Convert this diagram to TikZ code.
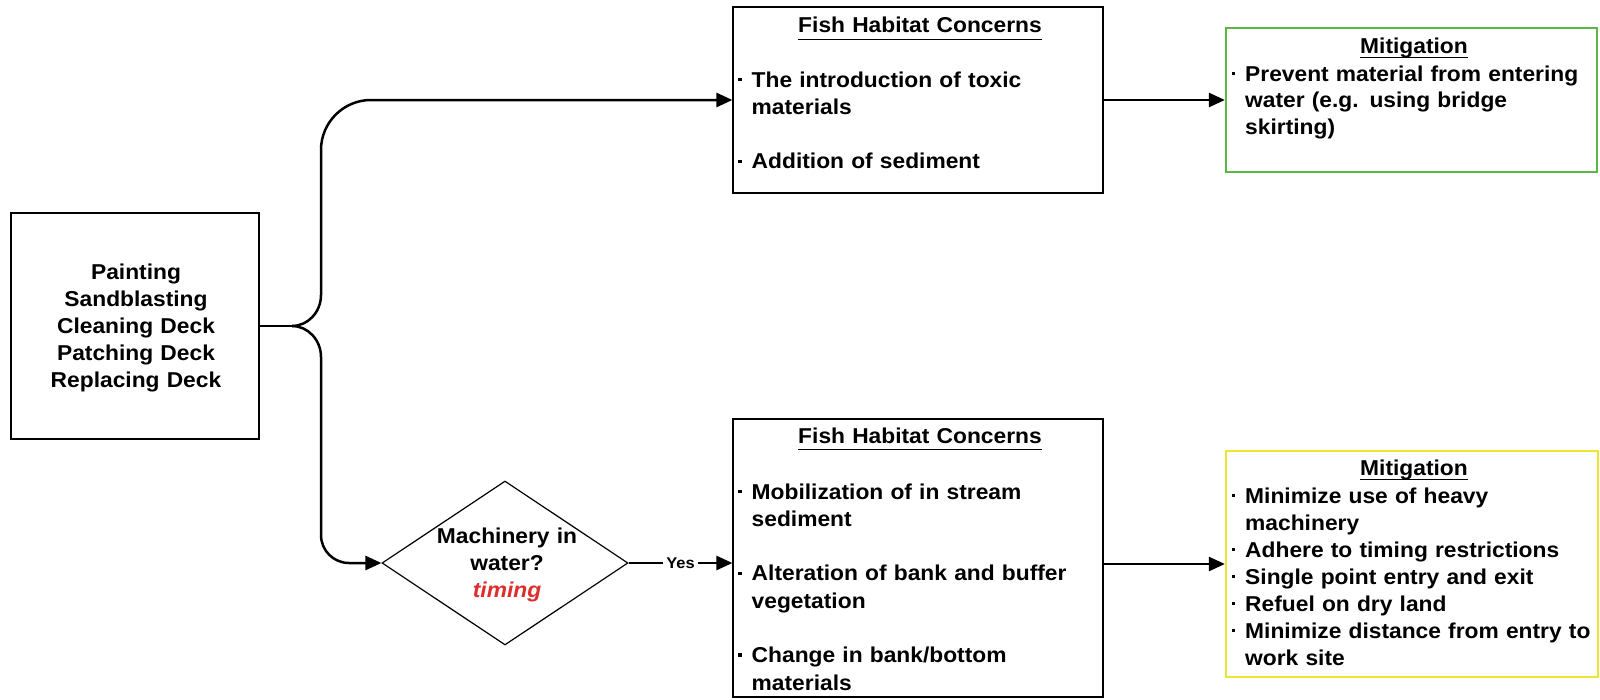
\documentclass[tikz,border=0pt]{standalone}
\usepackage{fontspec}
\setmainfont{Liberation Sans}[FakeStretch=1.06]
\usetikzlibrary{arrows.meta,shapes.geometric}

\definecolor{mitgreen}{RGB}{92,182,72}
\definecolor{mityellow}{RGB}{236,230,50}
\definecolor{timingred}{RGB}{222,45,45}

% small square bullet with a hanging indent for wrapped lines
\newcommand\bul{\makebox[13.5pt][l]{\raisebox{6pt}{\rule{3.4pt}{3.4pt}}}}
\newcommand\ind{\hspace*{13.5pt}}
% heading with an underline dropped #1 below the baseline
\newcommand\hdr[2]{\sbox0{#2}\rlap{\rule[-#1]{\wd0}{1.3pt}}\usebox0}
\newcommand\bodyfont{\fontsize{21.5}{27.3}\selectfont\bfseries}

\tikzset{
  box/.style={draw, line width=1.2pt, inner sep=0pt},
  mitbox/.style={draw=#1, line width=2.3pt, inner sep=0pt},
  wire/.style={line width=2.5pt},
  conn/.style={line width=2.5pt, -{Triangle[length=16pt,width=14pt]}},
  body/.style={anchor=base west, inner sep=0pt, text width=400pt, align=left, font=\bodyfont},
  ctext/.style={anchor=base, inner sep=0pt, text width=260pt, align=center, font=\bodyfont},
}

\begin{document}
\begin{tikzpicture}[x=1pt, y=-1pt]
\useasboundingbox (0,0) rectangle (1600,699);

% activities
\node[box, minimum width=248, minimum height=226] (src) at (135,326) {};
\node[ctext, font=\fontsize{21.5}{27}\selectfont\bfseries] (srctxt) at (136,279)
  {Painting\\Sandblasting\\Cleaning Deck\\Patching Deck\\Replacing Deck};

% upper branch: concerns and mitigation
\node[box, minimum width=370, minimum height=186] (top) at (918,100) {};
\node[ctext] (toptitle) at (920,32.5) {\hdr{7.3pt}{Fish Habitat Concerns}};
\node[body] (topbody) at (738,87)
  {\bul The introduction of toxic\\
   \ind materials\\[27.3pt]
   \bul Addition of sediment};

\node[mitbox=mitgreen, minimum width=371, minimum height=144] (gmit) at (1411.5,100) {};
\node[ctext] (gtitle) at (1414,53) {\hdr{5pt}{Mitigation}};
\node[body, font=\fontsize{21.5}{26.5}\selectfont\bfseries] (gbody) at (1231.5,81)
  {\bul Prevent material from entering\\
   \ind water (e.g. using bridge\\
   \ind skirting)};

% lower branch: decision, concerns and mitigation
\node[diamond, draw, line width=1.2pt, minimum width=246, minimum height=164, inner sep=0pt] (dia) at (505,563) {};
\node[ctext, font=\fontsize{21.5}{27}\selectfont\bfseries] (diatxt) at (507,543)
  {Machinery in\\water?\\\textcolor{timingred}{\itshape timing}};
\node[inner sep=3pt, font=\fontsize{15.5}{18}\selectfont\bfseries] (yes) at (680.5,563) {Yes};

\node[box, minimum width=370, minimum height=278] (bot) at (918,558) {};
\node[ctext] (bottitle) at (920,443) {\hdr{7.3pt}{Fish Habitat Concerns}};
\node[body] (botbody) at (738,499)
  {\bul Mobilization of in stream\\
   \ind sediment\\[27.3pt]
   \bul Alteration of bank and buffer\\
   \ind vegetation\\[27.3pt]
   \bul Change in bank/bottom\\
   \ind materials};

\node[mitbox=mityellow, minimum width=372, minimum height=226] (ymit) at (1412,564) {};
\node[ctext] (ytitle) at (1414,475) {\hdr{5pt}{Mitigation}};
\node[body, font=\fontsize{21.5}{27}\selectfont\bfseries] (ybody) at (1231.5,503)
  {\bul Minimize use of heavy\\
   \ind machinery\\
   \bul Adhere to timing restrictions\\
   \bul Single point entry and exit\\
   \bul Refuel on dry land\\
   \bul Minimize distance from entry to\\
   \ind work site};

% connectors
\coordinate (fork) at (292,326);
\draw[wire] (src.east) -- (fork);
\draw[conn] (fork) .. controls (308,326) and (321,312) .. (321,295)
  -- (321,150) .. controls (321,122.4) and (343.4,100) .. (371,100) -- (top.west);
\draw[conn] (fork) .. controls (308,326) and (321,340) .. (321,357)
  -- (321,535) .. controls (321,550.5) and (333.5,563) .. (349,563) -- (dia.west);
\draw[wire] (dia.east) -- (yes.west);
\draw[conn] (yes.east) -- (yes.east -| bot.west);
\draw[conn] (top.east) -- (gmit.west);
\draw[conn] (ymit.west -| bot.east) -- (ymit.west);
\end{tikzpicture}
\end{document}
